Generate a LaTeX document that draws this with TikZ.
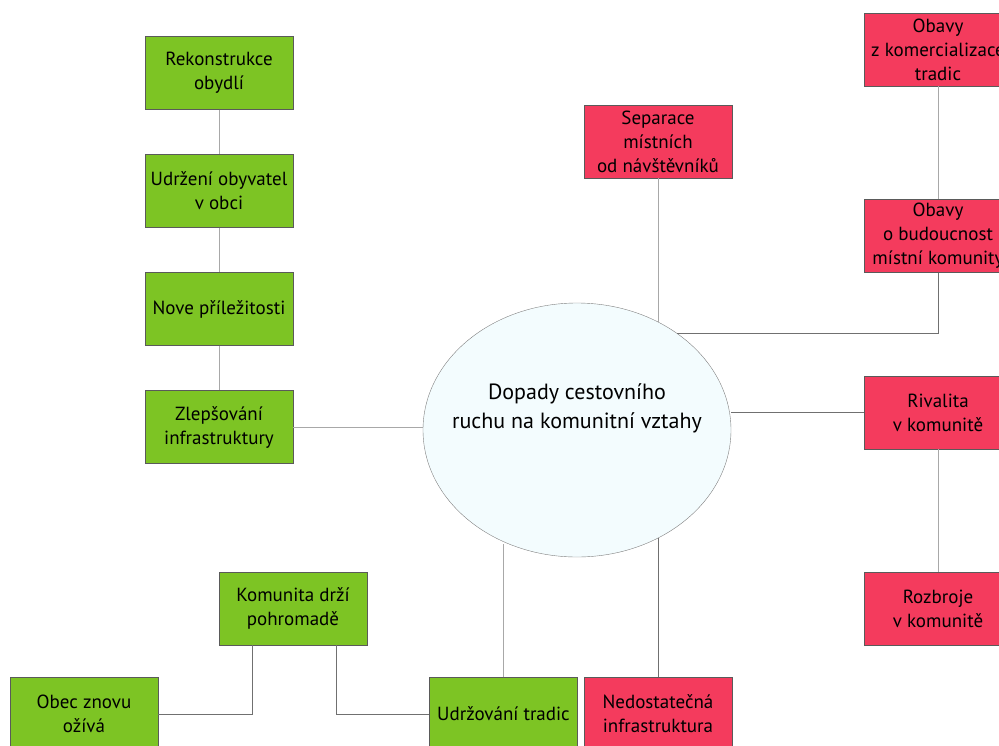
\documentclass[tikz,border=0pt]{standalone}
\usepackage{fontspec}
\setmainfont{PT Sans}
\usetikzlibrary{shapes.geometric}
\definecolor{posgreen}{HTML}{7DC424}
\definecolor{negred}{HTML}{F43B5D}
\definecolor{hubfill}{HTML}{F3FCFE}
\definecolor{boxline}{HTML}{5A5A5A}
\definecolor{lightline}{HTML}{A8A8A8}
\definecolor{darkline}{HTML}{707070}
\tikzstyle{gainbox}  = [rectangle, minimum width=148pt, minimum height=73pt, inner sep=2pt, align=center, draw=boxline, fill=posgreen, font=\fontsize{19}{24}\selectfont]
\tikzstyle{lossbox}  = [gainbox, fill=negred]
\tikzstyle{hub}      = [ellipse, minimum width=308pt, minimum height=254pt, draw=gray, fill=hubfill]
\tikzstyle{link}     = [draw=lightline, line width=1pt]
\tikzstyle{darklink} = [draw=darkline, line width=1pt]

\begin{document}
\begin{tikzpicture}[x=1pt, y=1pt, node distance=118pt]
      \useasboundingbox (0,0) rectangle (999,-745);

      \node (hub) [hub] at (577,-430) {};
      \node (hubtext) [align=center, font=\fontsize{22}{29}\selectfont] at (577,-408) {Dopady cestovního\\ruchu na komunitní vztahy};

      \node (zlep) [gainbox] at (219,-427)    {Zlepšování\\infrastruktury};
      \node (nove) [gainbox, above of=zlep]   {Nove příležitosti};
      \node (udr)  [gainbox, above of=nove]   {Udržení obyvatel\\v obci};
      \node (rek)  [gainbox, above of=udr]    {Rekonstrukce\\obydlí};

      \node (sep)  [lossbox] at (658,-141.5)  {Separace\\místních\\od návštěvníků};

      \node (riv)  [lossbox] at (938,-412.5)  {Rivalita\\v komunitě};
      \node (obb)  [lossbox, above of=riv, yshift=58.5pt] {Obavy\\o budoucnost\\místní komunity};
      \node (obk)  [lossbox, above of=obb, yshift=68.5pt] {Obavy\\z komercializace\\tradic};
      \node (roz)  [lossbox, below of=riv, yshift=-78pt]  {Rozbroje\\v komunitě};

      \node (ned)  [lossbox] at (658,-714)    {Nedostatečná\\infrastruktura};
      \node (udt)  [gainbox, left of=ned, xshift=-36.5pt] {Udržování tradic};
      \node (kom)  [gainbox] at (293,-608.5)  {Komunita drží\\pohromadě};
      \node (obec) [gainbox] at (84,-714)     {Obec znovu\\ožívá};

      \draw [link] (rek) -- (udr);
      \draw [link] (udr) -- (nove);
      \draw [link] (nove) -- (zlep);
      \draw [link] (zlep.east) -- (zlep.east -| hub.west);

      \draw [link] (sep) -- (sep |- hub.53);
      \draw [link] (obk) -- (obb);
      \draw [darklink] (obb) |- (hub.44);
      \draw [darklink] (riv.west) -- (riv.west -| hub.east);
      \draw [link] (riv) -- (roz);

      \draw [darklink] (ned) -- (ned |- hub.-53);
      \draw [link] (udt) -- (udt |- hub.-121);
      \draw [darklink] ([xshift=-41pt]kom.south) |- (obec);
      \draw [darklink] ([xshift=43pt]kom.south) |- (udt);

    \end{tikzpicture}
\end{document}
